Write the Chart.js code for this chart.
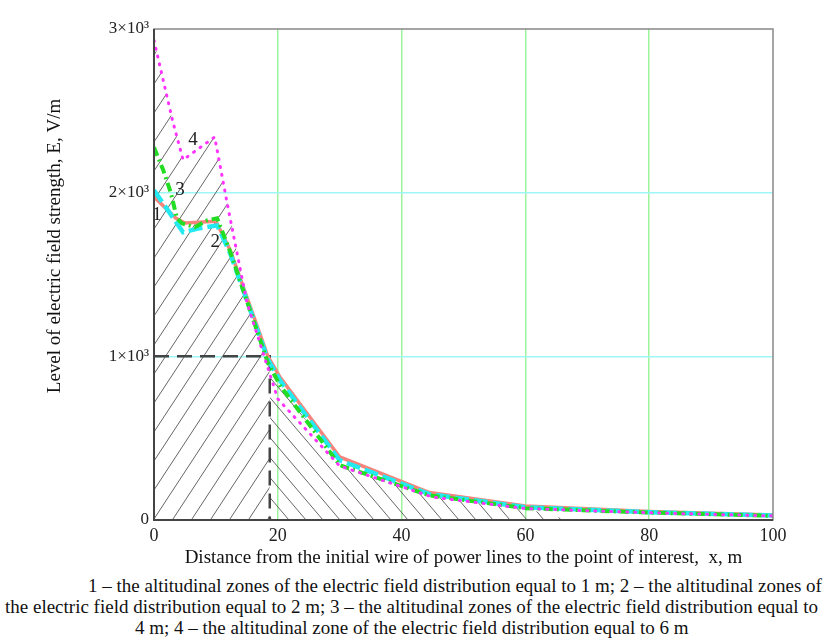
<!DOCTYPE html>
<html>
<head>
<meta charset="utf-8">
<script src="https://cdn.jsdelivr.net/npm/chart.js@4.4.1/dist/chart.umd.min.js"></script>
<style>
  body { margin: 0; background: #fff; }
  #wrap { position: relative; width: 828px; height: 641px; }
  #chart { position: absolute; left: 0; top: 0; }
  .cap { position: absolute; white-space: nowrap; font-family: "Liberation Serif", serif; font-size: 19px; color: #111; line-height: 21px; }
</style>
</head>
<body>
<div id="wrap">
  <canvas id="chart" width="828" height="575"></canvas>
  <div class="cap" style="left:88px; top:575px;">1 – the altitudinal zones of the electric field distribution equal to 1 m; 2 – the altitudinal zones of</div>
  <div class="cap" style="left:5px; top:596px;">the electric field distribution equal to 2 m; 3 – the altitudinal zones of the electric field distribution equal to</div>
  <div class="cap" style="left:135px; top:617px;">4 m; 4 – the altitudinal zone of the electric field distribution equal to 6 m</div>
</div>
<script>
// distance x, m  /  field strength E, V/m
const x1 = [0, 3.5, 5, 10, 12.3, 18.4, 20.4, 30, 44.5, 60, 80, 100];
const e1 = [1975, 1845, 1815, 1825, 1650, 1000, 870, 385, 168, 85, 52, 30];

const x2 = [0, 4.7, 7.4, 10.2, 12.3, 18.4, 20.4, 30, 44.5, 60, 80, 100];
const e2 = [2015, 1758, 1783, 1800, 1630, 980, 850, 365, 158, 78, 48, 28];

const x3 = [0, 1.5, 2.7, 3.7, 4.5, 6.6, 8.6, 10.2, 12.3, 18.4, 20.4, 30, 44.5, 60, 80, 100];
const e3 = [2277, 2137, 2002, 1844, 1813, 1789, 1831, 1844, 1640, 960, 820, 335, 150, 72, 45, 25];

const x4 = [0, 3, 4.7, 9.8, 12, 15, 20, 30, 45, 60, 80, 100];
const e4 = [2930, 2440, 2200, 2340, 1900, 1330, 740, 330, 140, 70, 44, 25];

// the 1 kV/m reading marked with the dashed lines
const markX = 18.7;
const markE = 1000;
const hatchEndX = 67;

const yTicks = [0, 1000, 2000, 3000];
const curveLabels = [
  { text: '1', x: 0.5, y: 1862 },
  { text: '2', x: 9.9, y: 1697 },
  { text: '3', x: 4.2, y: 2015 },
  { text: '4', x: 6.3, y: 2320 }
];

const pts = (xs, ys) => xs.map((x, i) => ({ x: x, y: ys[i] }));

// hatched areas under the curves
const hatchLeft = pts(x4, e4).filter(p => p.x < markX).concat([{ x: markX, y: markE }]);
const hatchRight = [{ x: markX, y: markE }]
  .concat(pts(x3, e3).filter(p => p.x > markX && p.x <= 60))
  .concat([{ x: hatchEndX, y: 0 }]);

function makeHatch(w, h, forward) {
  const c = document.createElement('canvas');
  c.width = w; c.height = h;
  const g = c.getContext('2d');
  g.strokeStyle = '#666';
  g.lineWidth = 1;
  for (let k = -1; k <= 1; k++) {
    g.beginPath();
    if (forward) {
      g.moveTo(k * w - w, 2 * h);
      g.lineTo(k * w + 2 * w, -h);
    } else {
      g.moveTo(k * w - w, -h);
      g.lineTo(k * w + 2 * w, 2 * h);
    }
    g.stroke();
  }
  return g.createPattern(c, 'repeat');
}

const frame = {
  id: 'frame',
  afterDraw(chart) {
    const { ctx, chartArea: a } = chart;
    ctx.save();
    ctx.strokeStyle = '#888';
    ctx.lineWidth = 1.5;
    ctx.strokeRect(a.left, a.top, a.right - a.left, a.bottom - a.top);
    ctx.strokeStyle = '#444';
    ctx.lineWidth = 2;
    ctx.beginPath();
    ctx.moveTo(a.left, a.top);
    ctx.lineTo(a.left, a.bottom);
    ctx.lineTo(a.right, a.bottom);
    ctx.stroke();
    ctx.restore();
  }
};

const labelsPlugin = {
  id: 'curveLabels',
  afterDatasetsDraw(chart) {
    const { ctx, scales } = chart;
    ctx.save();
    ctx.font = '19px "Liberation Serif", serif';
    ctx.fillStyle = '#222';
    ctx.textAlign = 'center';
    ctx.textBaseline = 'middle';
    curveLabels.forEach(l => {
      ctx.fillText(l.text, scales.x.getPixelForValue(l.x), scales.y.getPixelForValue(l.y));
    });
    ctx.restore();
  }
};

const serif = '"Liberation Serif", serif';
const ctx = document.getElementById('chart').getContext('2d');

new Chart(ctx, {
  type: 'scatter',
  data: {
    datasets: [
      {
        label: '4', data: pts(x4, e4), showLine: true, order: 1,
        borderColor: '#ff33ff', borderWidth: 3, borderDash: [1, 7], borderCapStyle: 'round',
        pointRadius: 0, fill: false
      },
      {
        label: '3', data: pts(x3, e3), showLine: true, order: 2,
        borderColor: '#22dd22', borderWidth: 4, borderDash: [9, 4, 2, 4],
        pointRadius: 0, fill: false
      },
      {
        label: '2', data: pts(x2, e2), showLine: true, order: 3,
        borderColor: '#22eaf0', borderWidth: 4.5, borderDash: [14, 5],
        pointRadius: 0, fill: false
      },
      {
        label: '1', data: pts(x1, e1), showLine: true, order: 4,
        borderColor: '#f7837a', borderWidth: 3.5,
        pointRadius: 0, fill: false
      },
      {
        label: 'mark', data: [{ x: 0, y: markE }, { x: markX, y: markE }, { x: markX, y: 0 }],
        showLine: true, order: 5,
        borderColor: '#444', borderWidth: 2.5, borderDash: [15, 8],
        pointRadius: 0, fill: false
      },
      {
        label: 'hatchLeft', data: hatchLeft, showLine: true, order: 6,
        borderWidth: 0, borderColor: 'transparent', pointRadius: 0,
        fill: 'origin', backgroundColor: makeHatch(19, 29, true)
      },
      {
        label: 'hatchRight', data: hatchRight, showLine: true, order: 7,
        borderWidth: 0, borderColor: 'transparent', pointRadius: 0,
        fill: 'origin', backgroundColor: makeHatch(17, 20, false)
      }
    ]
  },
  options: {
    responsive: false,
    animation: false,
    layout: { padding: { left: 0, right: 55, top: 29, bottom: 0 } },
    plugins: { legend: { display: false }, tooltip: { enabled: false } },
    scales: {
      x: {
        type: 'linear', min: 0, max: 100,
        afterFit(scale) { scale.height = 55; },
        ticks: { stepSize: 20, color: '#222', padding: 5, font: { family: serif, size: 18 } },
        grid: {
          drawTicks: false, lineWidth: 1.5,
          color: c => (c.tick && c.tick.value > 0 && c.tick.value < 100) ? '#9cf59c' : 'transparent'
        },
        border: { display: false },
        title: {
          display: true,
          text: 'Distance from the initial wire of power lines to the point of interest,  x, m',
          color: '#111', font: { family: serif, size: 19 }, padding: { top: 0, bottom: 6 }
        }
      },
      y: {
        min: 0, max: 3000,
        afterFit(scale) { scale.width = 154; },
        afterBuildTicks(scale) { scale.ticks = yTicks.map(v => ({ value: v })); },
        ticks: {
          color: '#222', padding: 5, font: { family: serif, size: 17 },
          callback: v => v === 0 ? '0' : (v / 1000) + '×10³'
        },
        grid: {
          drawTicks: false, lineWidth: 1.5,
          color: c => (c.tick && c.tick.value > 0 && c.tick.value < 3000) ? '#9ef6f6' : 'transparent'
        },
        border: { display: false },
        title: {
          display: true,
          text: '            Level of electric field strength, E, V/m',
          color: '#111', font: { family: serif, size: 19 }, padding: { top: 44, bottom: 0 }
        }
      }
    }
  },
  plugins: [frame, labelsPlugin]
});
</script>
</body>
</html>
